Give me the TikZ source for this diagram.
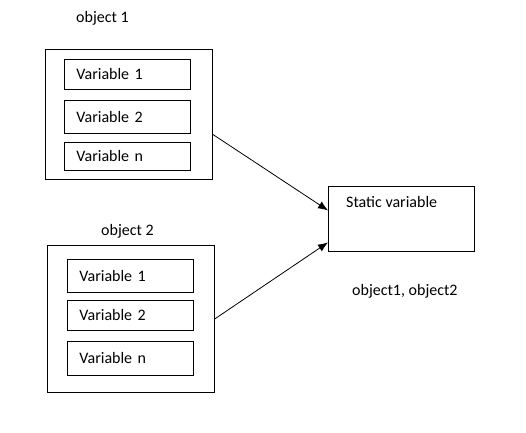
\documentclass[tikz,border=0pt]{standalone}
\usepackage{fontspec}
\setmainfont{Carlito}
\usetikzlibrary{arrows.meta, calc}

\tikzset{
  objbox/.style={draw, line width=0.8pt, anchor=north west, inner sep=0pt},
  varbox/.style={draw, line width=0.8pt, anchor=north west, inner xsep=12pt, inner ysep=0pt,
    text width=102pt, align=left},
  lbl/.style={anchor=west, inner sep=0pt},
  link/.style={line width=0.8pt, -{Latex[length=10pt,width=8pt]}}
}

\begin{document}
\begin{tikzpicture}[x=1pt, y=-1pt, font=\fontsize{16}{19}\selectfont]
\useasboundingbox (0,0) rectangle (526,432);

% object 1
\node[lbl] (lab1) at (76,18) {object 1};
\node[objbox, minimum width=167pt, minimum height=130pt] (obj1) at (45,49) {};
\node[varbox, minimum height=30pt] (a1) at (64,59) {Variable 1};
\node[varbox, minimum height=33pt] (a2) at (64,100) {Variable 2};
\node[varbox, minimum height=28pt] (an) at (64,142) {Variable n};

% object 2
\node[lbl] (lab2) at (101,231) {object 2};
\node[objbox, minimum width=167pt, minimum height=147pt] (obj2) at (47,245) {};
\node[varbox, minimum height=33pt] (b1) at (67,259) {Variable 1};
\node[varbox, minimum height=30pt] (b2) at (67,300) {Variable 2};
\node[varbox, minimum height=34pt] (bn) at (67,341) {Variable n};

% static part
\node[objbox, minimum width=146pt, minimum height=65pt] (st) at (328,186) {};
\node[lbl] (stlab) at (346,202) {Static variable};
\node[lbl] (users) at (352,291) {object1, object2};

% links
\draw[link] ([yshift=-20pt]obj1.east) -- ([yshift=8.5pt]st.west);
\draw[link] (obj2.east) -- ([yshift=-23.5pt]st.west);
\end{tikzpicture}
\end{document}
